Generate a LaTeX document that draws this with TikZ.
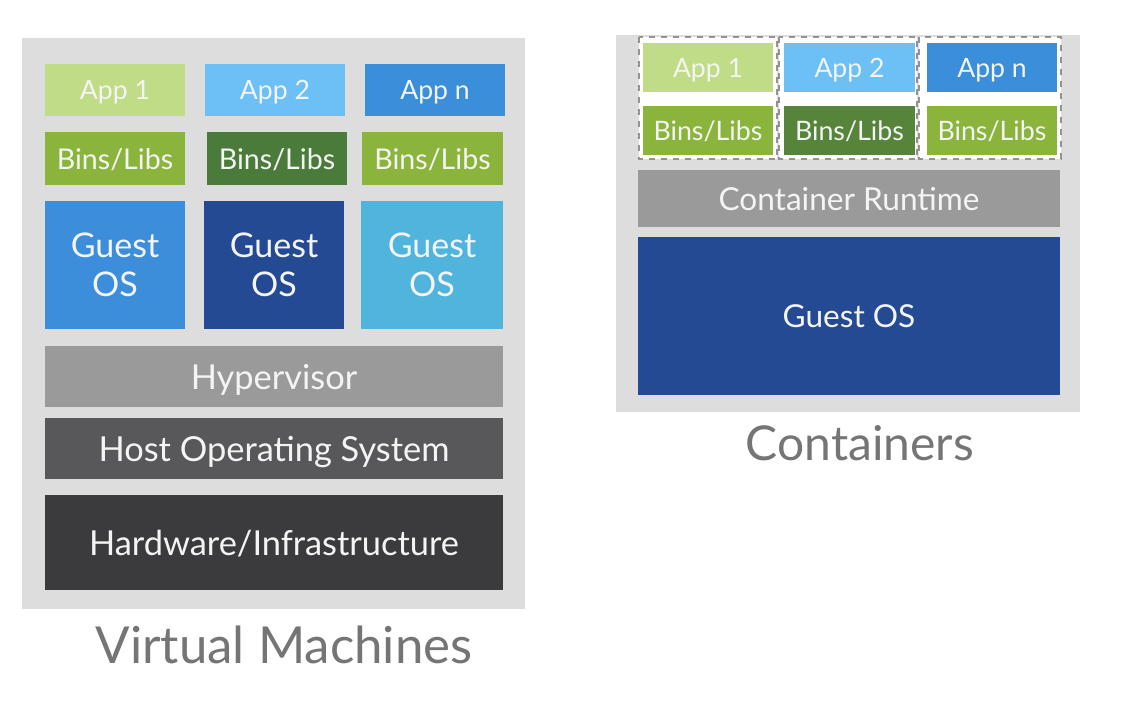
\documentclass[tikz,border=0pt]{standalone}
\usepackage{fontspec}
\setmainfont{Lato}
\definecolor{panel}{HTML}{DDDDDD}
\definecolor{appA}{HTML}{C1DC86}
\definecolor{appB}{HTML}{6CC0F6}
\definecolor{appC}{HTML}{3A8EDA}
\definecolor{binA}{HTML}{8BB43C}
\definecolor{binB}{HTML}{4B7B3A}
\definecolor{osA}{HTML}{3C8EDB}
\definecolor{osB}{HTML}{244A93}
\definecolor{osC}{HTML}{50B4DC}
\definecolor{hyp}{HTML}{9A9A9A}
\definecolor{host}{HTML}{58585A}
\definecolor{hw}{HTML}{3B3B3D}
\definecolor{title}{HTML}{757575}
\definecolor{txt}{HTML}{F4F4F4}
\begin{document}
\begin{tikzpicture}[x=0.5pt,y=-0.5pt,
  blk/.style={draw=none,inner sep=0pt,text=txt,align=center,text depth=0pt,font=\fontsize{13.3}{15}\selectfont},
  bins/.style={blk,font=\fontsize{14.3}{17}\selectfont},
  cbins/.style={blk,font=\fontsize{13.4}{16}\selectfont},
  big/.style={blk,font=\fontsize{17.2}{20}\selectfont},
  cbig/.style={blk,font=\fontsize{15.8}{19}\selectfont},
  os/.style={blk,font=\fontsize{17}{19.5}\selectfont},
  ttl/.style={text=title,inner sep=0pt},
  dbox/.style={draw=gray!85,dashed,fill=white,line width=0.8pt}]
\useasboundingbox (0,0) rectangle (1134,720);
\fill[white] (0,0) rectangle (1134,720);
% left panel
\fill[panel] (22,38) rectangle (525,609);
\node[blk,fill=appA,minimum width=70pt,minimum height=26pt] (a1) at (115,90) {App 1};
\node[blk,fill=appB,minimum width=70pt,minimum height=26pt] (a2) at (275,90) {App 2};
\node[blk,fill=appC,minimum width=70pt,minimum height=26pt] (a3) at (435,90) {App n};
\node[bins,fill=binA,minimum width=70pt,minimum height=26.5pt] (b1) at (115,158.5) {Bins/Libs};
\node[bins,fill=binB,minimum width=70pt,minimum height=26.5pt] (b2) at (277,158.5) {Bins/Libs};
\node[bins,fill=binA,minimum width=70.5pt,minimum height=26.5pt] (b3) at (432.5,158.5) {Bins/Libs};
\node[os,fill=osA,minimum width=70pt,minimum height=64pt] (g1) at (115,265) {Guest\\OS};
\node[os,fill=osB,minimum width=70pt,minimum height=64pt] (g2) at (274,265) {Guest\\OS};
\node[os,fill=osC,minimum width=71pt,minimum height=64pt] (g3) at (432,265) {Guest\\OS};
\node[big,fill=hyp,minimum width=229pt,minimum height=30.5pt] (hv) at (274,376.5) {Hypervisor};
\node[big,fill=host,minimum width=229pt,minimum height=30.5pt] (ho) at (274,448.5) {Host Operating System};
\node[big,fill=hw,minimum width=229pt,minimum height=47.5pt] (hw) at (274,542.5) {Hardware/Infrastructure};
\node[ttl,font=\fontsize{25.5}{30}\selectfont] (vm) at (284,645) {Virtual Machines};
% right panel
\fill[panel] (616,35) rectangle (1080,412);
\draw[dbox] (639,37) rectangle (777,159);
\draw[dbox] (779,37) rectangle (917,159);
\draw[dbox] (919,37) rectangle (1061,159);
\node[blk,fill=appA,minimum width=65pt,minimum height=24.5pt] (c1) at (708,67.5) {App 1};
\node[blk,fill=appB,minimum width=65.5pt,minimum height=24.5pt] (c2) at (849.5,67.5) {App 2};
\node[blk,fill=appC,minimum width=65pt,minimum height=24.5pt] (c3) at (992,67.5) {App n};
\node[cbins,fill=binA,minimum width=65pt,minimum height=24.5pt] (d1) at (708,130.5) {Bins/Libs};
\node[cbins,fill=binB!85!binA,minimum width=65.5pt,minimum height=24.5pt] (d2) at (849.5,130.5) {Bins/Libs};
\node[cbins,fill=binA,minimum width=65pt,minimum height=24.5pt] (d3) at (992,130.5) {Bins/Libs};
\node[cbig,fill=hyp,minimum width=211pt,minimum height=28.5pt] (cr) at (849,198.5) {Container Runtime};
\node[cbig,fill=osB,minimum width=211pt,minimum height=79pt] (cg) at (849,316) {Guest OS};
\node[ttl,font=\fontsize{24}{28}\selectfont] (ct) at (860,443) {Containers};
\end{tikzpicture}
\end{document}
